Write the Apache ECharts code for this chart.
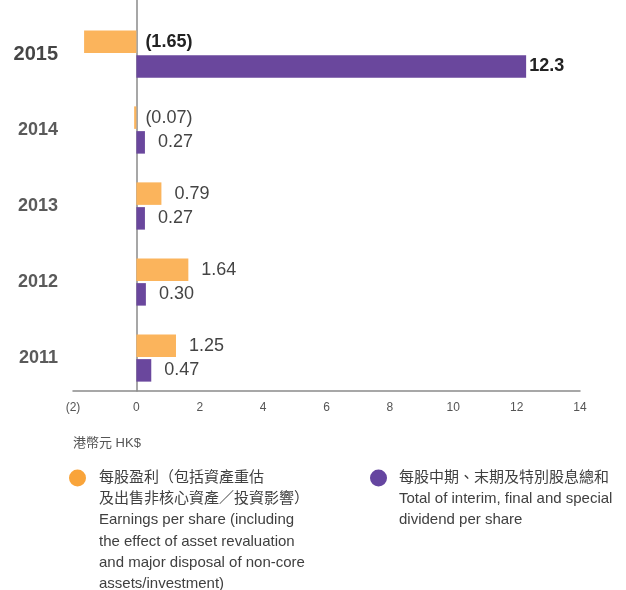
<!DOCTYPE html>
<html><head><meta charset="utf-8">
<script src="https://cdn.jsdelivr.net/npm/echarts@6/dist/echarts.min.js"></script>
<style>html,body{margin:0;padding:0;background:#fff}#c{width:626px;height:590px}</style>
</head><body><div id="c"></div>
<script>
var years = ['2015', '2014', '2013', '2012', '2011'];
var eps = [-1.65, -0.07, 0.79, 1.64, 1.25];
var epsLabels = ['(1.65)', '(0.07)', '0.79', '1.64', '1.25'];
var dividend = [12.3, 0.27, 0.27, 0.30, 0.47];
var dividendLabels = ['12.3', '0.27', '0.27', '0.30', '0.47'];
var xTicks = { min: -2, max: 14, interval: 2 };
var unitText = '港幣元 HK$';
var legendEpsLines = ['每股盈利（包括資產重估', '及出售非核心資產／投資影響）', 'Earnings per share (including', 'the effect of asset revaluation', 'and major disposal of non-core', 'assets/investment)'];
var legendDivLines = ['每股中期、末期及特別股息總和', 'Total of interim, final and special', 'dividend per share'];

var ORANGE = '#FBB45C', PURPLE = '#6A479D';
var LEG_ORANGE = '#F9A43A', LEG_PURPLE = '#6545A0';
var FONT = '"Liberation Sans", "Noto Sans CJK TC", Helvetica, Arial, sans-serif';
var LH = 21.2;
var AXIS_LINE = { show: true, lineStyle: { color: '#8a8a8a', width: 1.5 } };

// legend text: first line aligned with the icon (icon is centred on the text block)
function legendText(lines) {
  var pad = [];
  for (var i = 1; i < lines.length; i++) pad.push('{t| }');
  return pad.concat(lines.map(function (l) { return '{t|' + l + '}'; })).join('\n');
}

function mkData(vals, labels, big) {
  return vals.map(function (v, i) {
    var d = { value: v, label: { formatter: labels[i] } };
    if (v < 0) d.label.distance = 9;
    if (i === 0) {
      d.label.fontWeight = 'bold';
      d.label.color = '#222';
      if (big) d.label.distance = 3;
    }
    return d;
  });
}

var chart = echarts.init(document.getElementById('c'));
chart.setOption({
  animation: false,
  textStyle: { fontFamily: FONT },
  grid: [
    { left: 73, right: 46, top: 16, height: 380, containLabel: false, outerBoundsMode: 'none' },
    { left: 73, right: 46, top: 0, height: 391, containLabel: false, outerBoundsMode: 'none' }
  ],
  xAxis: [{
    type: 'value', min: xTicks.min, max: xTicks.max, interval: xTicks.interval,
    offset: -5,
    axisLine: AXIS_LINE,
    axisTick: { show: false },
    splitLine: { show: false },
    axisLabel: {
      color: '#555', fontSize: 12, margin: 11, fontFamily: FONT,
      formatter: function (v) { return v < 0 ? '(' + (-v) + ')' : String(v); }
    }
  }, {
    gridIndex: 1, type: 'value', min: xTicks.min, max: xTicks.max, interval: xTicks.interval,
    axisLine: { show: false }, axisTick: { show: false }, axisLabel: { show: false }, splitLine: { show: false }
  }],
  yAxis: [{
    type: 'category', data: years, inverse: true,
    axisLine: { show: false },
    axisTick: { show: false },
    axisLabel: {
      margin: 15, fontSize: 18, fontWeight: 'bold', color: '#5a5a5a', fontFamily: FONT,
      formatter: function (v, i) { return i === 0 ? '{a|' + v + '}' : v; },
      rich: { a: { fontSize: 20, fontWeight: 'bold', color: '#454545', fontFamily: FONT } }
    }
  }, {
    gridIndex: 1, type: 'value', min: 0, max: 1,
    axisLine: { show: true, onZero: true, lineStyle: AXIS_LINE.lineStyle },
    axisTick: { show: false }, axisLabel: { show: false }, splitLine: { show: false }
  }],
  legend: [
    {
      data: [{ name: 'eps', icon: 'circle', itemStyle: { color: LEG_ORANGE } }],
      left: 69, top: 481 - LH * 5.5, orient: 'vertical', padding: 0,
      itemWidth: 17, itemHeight: 17, itemGap: 0,
      formatter: function () { return legendText(legendEpsLines); },
      textStyle: { rich: { t: { fontSize: 15, color: '#404040', lineHeight: LH, padding: [0, 0, 0, 8], fontFamily: FONT } } },
      selectedMode: false
    },
    {
      data: [{ name: 'div', icon: 'circle', itemStyle: { color: LEG_PURPLE } }],
      left: 370, top: 481 - LH * 2.5, orient: 'vertical', padding: 0,
      itemWidth: 17, itemHeight: 17, itemGap: 0,
      formatter: function () { return legendText(legendDivLines); },
      textStyle: { rich: { t: { fontSize: 15, color: '#404040', lineHeight: LH, padding: [0, 0, 0, 7], fontFamily: FONT } } },
      selectedMode: false
    }
  ],
  graphic: [{
    type: 'text', left: 73, top: 437,
    style: { text: unitText, fontSize: 13, fill: '#555', fontFamily: FONT }
  }],
  series: [
    {
      name: 'eps', type: 'bar', data: mkData(eps, epsLabels, false),
      barWidth: 22.5, barGap: '10%',
      itemStyle: { color: ORANGE },
      label: { show: true, position: 'right', distance: 13, fontSize: 18, color: '#444', fontFamily: FONT }
    },
    {
      name: 'div', type: 'bar', data: mkData(dividend, dividendLabels, true),
      barWidth: 22.5,
      itemStyle: { color: PURPLE },
      label: { show: true, position: 'right', distance: 13, fontSize: 18, color: '#444', fontFamily: FONT }
    }
  ]
});
</script></body></html>
